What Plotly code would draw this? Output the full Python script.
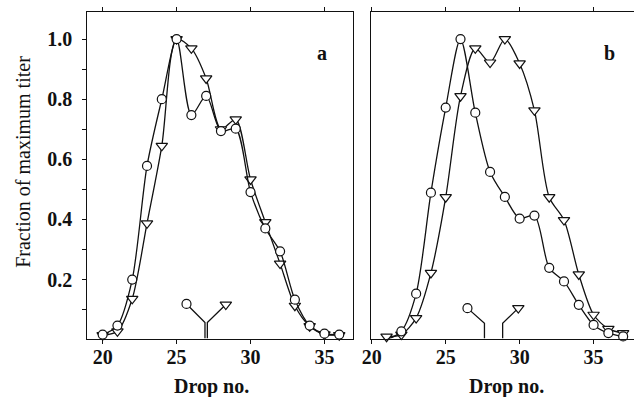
import plotly.graph_objects as go

# ---- data ----
drops_a = list(range(20, 37))
circ_a = [0.017, 0.047, 0.20, 0.578, 0.80, 1.0, 0.747, 0.811, 0.694, 0.702,
          0.491, 0.37, 0.294, 0.133, 0.047, 0.02, 0.017]
tri_a = [0.015, 0.028, 0.136, 0.387, 0.645, 1.0, 0.969, 0.869, 0.70, 0.733,
         0.533, 0.391, 0.253, 0.113, 0.045, 0.018, 0.015]

drops_b = list(range(21, 38))
circ_b = [0.0, 0.028, 0.153, 0.489, 0.772, 1.0, 0.755, 0.558, 0.475, 0.403,
          0.413, 0.239, 0.194, 0.116, 0.049, 0.022, 0.011]
tri_b = [0.01, 0.017, 0.072, 0.222, 0.474, 0.81, 0.969, 0.922, 1.0, 0.919,
         0.763, 0.474, 0.398, 0.217, 0.083, 0.036, 0.022]

# mean-position indicators (marker x/y, junction x/y)
ind_a_circ = [25.67, 0.119]
ind_a_tri = [28.33, 0.117]
ind_a_join = [26.92, 27.08, 0.057]
ind_b_circ = [26.47, 0.105]
ind_b_tri = [29.91, 0.105]
ind_b_join = [27.62, 28.85, 0.055]

x_ticks = [20, 25, 30, 35]
y_ticks = [0.1, 0.2, 0.3, 0.4, 0.5, 0.6, 0.7, 0.8, 0.9, 1.0]
y_text = ["" if round(v * 10) % 2 else f"{v:.1f}" for v in y_ticks]
y_base = 0.004

SERIF = "Liberation Serif"
BLACK = "#111"

fig = go.Figure()

def series(x, y, sym, size, xa, ya):
    fig.add_trace(go.Scatter(
        x=x, y=y, mode="lines+markers", xaxis=xa, yaxis=ya,
        line=dict(color=BLACK, width=1.3, shape="spline", smoothing=0.8),
        marker=dict(symbol=sym, size=size, color="white",
                    line=dict(color=BLACK, width=1.2)),
        cliponaxis=False, showlegend=False, hoverinfo="skip"))

series(drops_a, tri_a, "triangle-down", 10, "x", "y")
series(drops_a, circ_a, "circle", 9, "x", "y")
series(drops_b, tri_b, "triangle-down", 10, "x2", "y2")
series(drops_b, circ_b, "circle", 9, "x2", "y2")

def indicator(c, t, j, xa, ya):
    jl, jr, jy = j
    fig.add_trace(go.Scatter(x=[c[0], jl, jl], y=[c[1], jy, y_base], mode="lines",
                             xaxis=xa, yaxis=ya, line=dict(color=BLACK, width=1.3),
                             showlegend=False, hoverinfo="skip"))
    fig.add_trace(go.Scatter(x=[t[0], jr, jr], y=[t[1], jy, y_base], mode="lines",
                             xaxis=xa, yaxis=ya, line=dict(color=BLACK, width=1.3),
                             showlegend=False, hoverinfo="skip"))
    fig.add_trace(go.Scatter(x=[c[0]], y=[c[1]], mode="markers", xaxis=xa, yaxis=ya,
                             marker=dict(symbol="circle", size=9, color="white",
                                         line=dict(color=BLACK, width=1.2)),
                             showlegend=False, hoverinfo="skip"))
    fig.add_trace(go.Scatter(x=[t[0]], y=[t[1]], mode="markers", xaxis=xa, yaxis=ya,
                             marker=dict(symbol="triangle-down", size=10, color="white",
                                         line=dict(color=BLACK, width=1.2)),
                             showlegend=False, hoverinfo="skip"))

indicator(ind_a_circ, ind_a_tri, ind_a_join, "x", "y")
indicator(ind_b_circ, ind_b_tri, ind_b_join, "x2", "y2")

W, H = 634, 397
ydom = [1 - 338.5 / H, 1 - 12 / H]

tick_font = dict(family=SERIF, size=20, color=BLACK, weight=700)

common_x = dict(showline=True, linecolor=BLACK, linewidth=1.3, mirror="ticks",
                ticks="outside", ticklen=4, tickwidth=1.2, tickcolor=BLACK,
                tickmode="array", tickvals=x_ticks, showgrid=False, zeroline=False,
                ticklabelstandoff=-4, tickfont=tick_font)

fig.update_layout(
    width=W, height=H, margin=dict(l=0, r=0, t=0, b=0),
    paper_bgcolor="white", plot_bgcolor="white",
    font=dict(family=SERIF, color=BLACK),
    xaxis=dict(common_x, domain=[79.5 / W, 349 / W],
               range=[20 - 15.5 / 15, 20 + (349 - 95) / 15], anchor="y"),
    xaxis2=dict(common_x, domain=[367.5 / W, 1.0],
                range=[20 - 0.5 / 15, 20 + (634 - 368) / 15], anchor="y2"),
    yaxis=dict(domain=ydom, range=[y_base, 1.09], showline=True, linecolor=BLACK,
               linewidth=1.3, mirror=True, ticks="outside", ticklen=4, tickwidth=1.2,
               tickcolor=BLACK, tickmode="array", tickvals=y_ticks, ticktext=y_text,
               showgrid=False, zeroline=False, anchor="x", ticklabelstandoff=6,
               tickfont=tick_font),
    yaxis2=dict(domain=ydom, range=[y_base, 1.09], showline=True, linecolor=BLACK,
                linewidth=1.3, mirror=False, ticks="", showticklabels=False,
                showgrid=False, zeroline=False, anchor="x2"),
)

ann_font = dict(family=SERIF, size=20, color=BLACK, weight=700)
fig.add_annotation(text="a", xref="paper", yref="paper", x=318 / W, y=1 - 53 / H,
                   xanchor="center", yanchor="middle", showarrow=False, font=ann_font)
fig.add_annotation(text="b", xref="paper", yref="paper", x=609 / W, y=1 - 53 / H,
                   xanchor="center", yanchor="middle", showarrow=False, font=ann_font)
fig.add_annotation(text="Drop no.", xref="paper", yref="paper", x=205 / W, y=1 - 386 / H,
                   xanchor="center", yanchor="middle", showarrow=False, font=ann_font)
fig.add_annotation(text="Drop no.", xref="paper", yref="paper", x=505 / W, y=1 - 386 / H,
                   xanchor="center", yanchor="middle", showarrow=False, font=ann_font)
fig.add_annotation(text="Fraction of maximum titer", xref="paper", yref="paper",
                   x=14 / W, y=1 - 162 / H, xanchor="center", yanchor="middle",
                   textangle=-90, showarrow=False,
                   font=dict(family=SERIF, size=20, color=BLACK))

fig.write_html("out.html")
